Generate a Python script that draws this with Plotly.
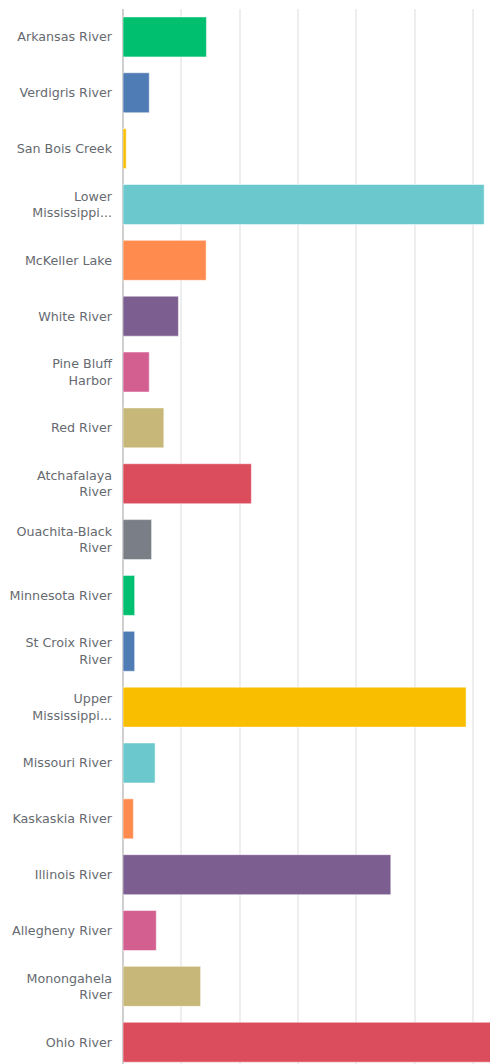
import plotly.graph_objects as go

categories = [
    "Arkansas River", "Verdigris River", "San Bois Creek", "Lower<br>Mississippi...",
    "McKeller Lake", "White River", "Pine Bluff<br>Harbor", "Red River",
    "Atchafalaya<br>River", "Ouachita-Black<br>River", "Minnesota River",
    "St Croix River<br>River", "Upper<br>Mississippi...", "Missouri River",
    "Kaskaskia River", "Illinois River", "Allegheny River", "Monongahela<br>River",
    "Ohio River",
]
values = [14.3, 4.5, 0.55, 61.9, 14.25, 9.5, 4.5, 7.0, 22.0, 4.9, 2.0, 2.0,
          58.8, 5.5, 1.78, 45.9, 5.7, 13.3, 64.0]
palette = ["#00BF6F", "#507CB6", "#F9BE00", "#6BC8CD", "#FF8B4F", "#7D5E90",
           "#D25F90", "#C7B879", "#DB4D5C", "#7A7F87"]
colors = [palette[i % len(palette)] for i in range(len(categories))]

fig = go.Figure(go.Bar(
    x=values, y=categories, orientation="h",
    marker=dict(color=colors, line=dict(color="rgba(255,255,255,0.5)", width=1)),
    hoverinfo="x+y",
))

fig.update_layout(
    width=490, height=1064,
    margin=dict(l=123, r=0, t=9, b=0),
    paper_bgcolor="white", plot_bgcolor="white",
    bargap=0.284,
    showlegend=False,
    font=dict(family="DejaVu Sans, sans-serif", size=12.7, color="#666A70"),
    xaxis=dict(range=[0, 62.9], dtick=10, showticklabels=False, ticks="",
               showgrid=True, gridcolor="#EEEEEE", gridwidth=1.5,
               zeroline=True, zerolinecolor="#CFCFCF", zerolinewidth=1.5,
               fixedrange=True),
    yaxis=dict(range=[18.39, -0.5], showgrid=False, ticks="", ticklabelstandoff=10,
               tickfont=dict(size=12.7, color="#666A70"), fixedrange=True),
)

fig.write_html(
    "out.html",
    config={"displayModeBar": False},
    post_script="document.body.style.margin='0';document.body.style.overflow='hidden';",
)
